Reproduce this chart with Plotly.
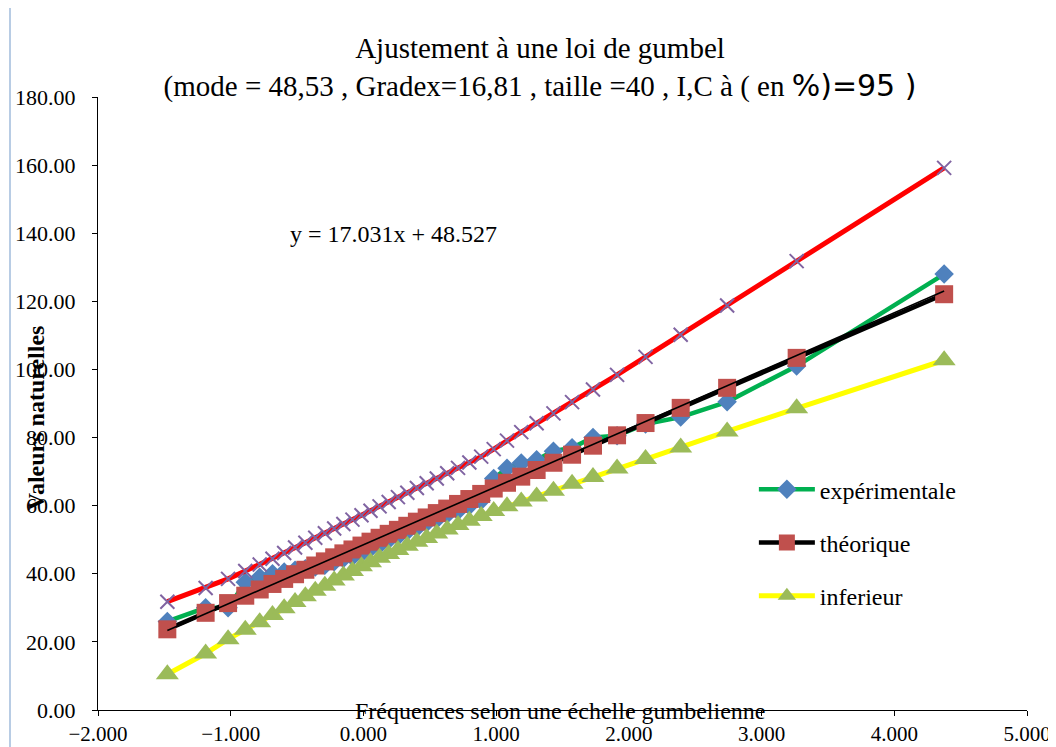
import plotly.graph_objects as go

# Gumbel reduced variate (x positions of the 40 points)
u = [-1.4775, -1.1889, -1.0198, -0.8904, -0.7815, -0.6852, -0.5972, -0.5152, -0.4375, -0.3630,
     -0.2908, -0.2204, -0.1511, -0.0827, -0.0146, 0.0534, 0.1216, 0.1903, 0.2599, 0.3307,
     0.4028, 0.4767, 0.5528, 0.6313, 0.7129, 0.7981, 0.8874, 0.9817, 1.0819, 1.1891,
     1.3051, 1.4318, 1.5720, 1.7297, 1.9111, 2.1257, 2.3906, 2.7405, 3.2643, 4.3757]

experimentale = [26.0, 30.0, 30.0, 37.5, 39.0, 40.0, 40.5, 41.0, 41.5, 42.0,
                 42.5, 43.5, 44.5, 45.0, 46.0, 47.5, 48.5, 50.0, 51.0, 52.5,
                 53.5, 55.0, 56.0, 57.5, 58.5, 60.0, 61.5, 68.0, 71.0, 72.5,
                 73.5, 76.0, 77.0, 80.0, 80.5, 84.0, 86.0, 90.5, 101.0, 128.0]

theorique = [23.69, 28.54, 31.39, 33.56, 35.39, 37.01, 38.49, 39.87, 41.18, 42.43,
             43.64, 44.83, 45.99, 47.14, 48.28, 49.43, 50.57, 51.73, 52.90, 54.09,
             55.30, 56.54, 57.82, 59.14, 60.51, 61.95, 63.45, 65.03, 66.72, 68.52,
             70.47, 72.60, 74.96, 77.61, 80.66, 84.26, 88.72, 94.60, 103.40, 122.09]

inferieur = [10.5, 16.6, 20.8, 23.6, 25.8, 27.9, 29.9, 31.7, 33.4, 35.0,
             36.5, 38.0, 39.5, 40.8, 42.2, 43.4, 44.7, 45.8, 47.0, 48.2,
             49.4, 50.5, 51.8, 53.0, 54.3, 55.6, 57.0, 58.4, 59.8, 61.2,
             62.7, 64.4, 66.4, 68.4, 70.9, 73.7, 77.1, 81.8, 88.6, 102.7]

superieur = [31.8, 35.8, 38.5, 40.8, 42.7, 44.4, 46.1, 47.7, 49.1, 50.6,
             51.9, 53.3, 54.6, 55.9, 57.2, 58.5, 59.8, 61.1, 62.5, 63.8,
             65.2, 66.6, 68.0, 69.5, 71.1, 72.7, 74.4, 76.6, 79.1, 81.6,
             84.2, 87.1, 90.4, 94.1, 98.4, 103.7, 110.2, 118.8, 131.8, 159.2]

# linear trendline shown on the chart
trend_slope = 17.031
trend_intercept = 48.527

SERIF = "Liberation Serif"

# the page adds an 8px body margin, so the figure is drawn 8px smaller
W, H = 1048, 739
ML, MR, MT, MB = 90, 29, 89, 37
PW, PH = W - ML - MR, H - MT - MB

fig = go.Figure()

fig.add_trace(go.Scatter(
    x=u, y=experimentale, name="expérimentale", mode="lines+markers",
    line=dict(color="#00B050", width=4.5),
    marker=dict(symbol="diamond", size=15, color="#4F81BD"),
    legendgroup="g1"))

fig.add_trace(go.Scatter(
    x=u, y=theorique, name="théorique", mode="lines+markers",
    line=dict(color="#000000", width=4.5),
    marker=dict(symbol="square", size=18, color="#C0504D"),
    legendgroup="g2"))

fig.add_trace(go.Scatter(
    x=u, y=inferieur, name="inferieur", mode="lines+markers",
    line=dict(color="#FFFF00", width=5),
    marker=dict(symbol="triangle-up", size=20, color="#9BBB59"),
    legendgroup="g3"))

fig.add_trace(go.Scatter(
    x=u, y=superieur, name="superieur", mode="lines+markers",
    line=dict(color="#FF0000", width=5),
    marker=dict(symbol="x-thin", size=14, color="#8064A2",
                line=dict(color="#8064A2", width=2)),
    showlegend=False))

tx = [min(u), max(u)]
fig.add_trace(go.Scatter(
    x=tx, y=[trend_slope * v + trend_intercept for v in tx],
    mode="lines", line=dict(color="#000000", width=1.6),
    showlegend=False, hoverinfo="skip"))

fig.update_layout(
    width=W, height=H,
    margin=dict(l=ML, r=MR, t=MT, b=MB),
    paper_bgcolor="white", plot_bgcolor="white",
    font=dict(family=SERIF, color="black"),
    title=dict(
        text="Ajustement à une loi de gumbel<br>(mode = 48,53 , Gradex=16,81 , taille =40 , I,C à ( en "
             "<span style='font-family:DejaVu Sans;font-size:30px'>%)=95 )</span>",
        x=532 / W, xanchor="center", y=1 - 50 / H, yanchor="top",
        font=dict(family=SERIF, size=29, color="black")),
    showlegend=True,
    legend=dict(
        x=0.706, xanchor="left", y=0.396, yanchor="top",
        font=dict(family=SERIF, size=24, color="black"),
        bgcolor="rgba(0,0,0,0)", tracegroupgap=19, itemwidth=56,
        traceorder="grouped"),
    xaxis=dict(
        range=[-2, 5], tick0=-2, dtick=1, tickformat=".3f",
        showline=True, linecolor="black", linewidth=1,
        ticks="outside", ticklen=5, tickcolor="black",
        showgrid=False, zeroline=False, automargin=False,
        tickfont=dict(family=SERIF, size=21, color="black")),
    yaxis=dict(
        range=[0, 180], tick0=0, dtick=20, tickformat=".2f",
        showline=True, linecolor="black", linewidth=1,
        ticks="outside", ticklen=5, tickcolor="black",
        showgrid=False, zeroline=False, ticklabelstandoff=12, automargin=False,
        tickfont=dict(family=SERIF, size=22, color="black")),
    annotations=[
        dict(text="y = 17.031x + 48.527", x=0.223, y=139.8, xref="x", yref="y",
             showarrow=False, font=dict(family=SERIF, size=24, color="black")),
        dict(text="Fréquences selon une échelle gumbelienne", x=0.498, y=0,
             xref="paper", yref="paper", xanchor="center", yanchor="middle", yshift=-1,
             showarrow=False, font=dict(family=SERIF, size=24, color="black")),
        dict(text="<b>Valeurs naturelles</b>", x=-0.0667, y=0.476,
             xref="paper", yref="paper", xanchor="center", yanchor="middle",
             textangle=-90, showarrow=False,
             font=dict(family=SERIF, size=24, color="black")),
    ],
    shapes=[
        dict(type="line", xref="paper", yref="paper",
             x0=(2 - ML) / PW, x1=(2 - ML) / PW,
             y0=(PH + MT - H) / PH, y1=(PH + MT) / PH,
             line=dict(color="#B8CCE4", width=2)),
    ],
)

fig.write_html("out.html")
